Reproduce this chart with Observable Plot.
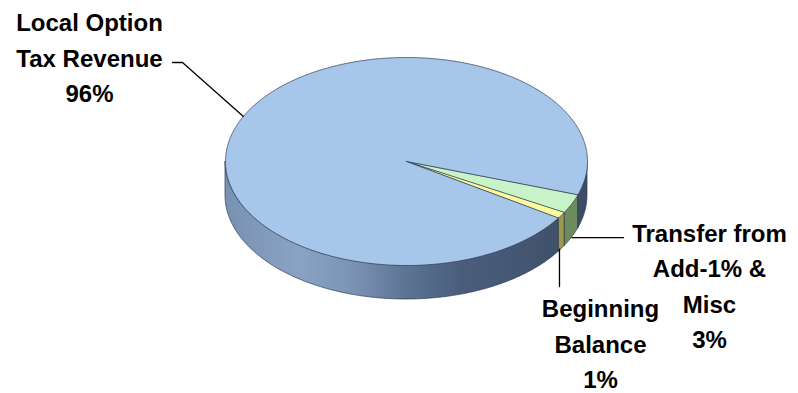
<!DOCTYPE html>
<html><head><meta charset="utf-8">
<script src="https://cdn.jsdelivr.net/npm/d3@7"></script>
<script src="https://cdn.jsdelivr.net/npm/@observablehq/plot@0.6"></script>
<style>body{margin:0;background:#fff}#chart{width:798px;height:393px}</style>
</head><body><div id="chart"></div>
<script>
// ---- data ----
const categories = ["Transfer from\nAdd-1% &\nMisc", "Beginning\nBalance", "Local Option\nTax Revenue"];
const values = [3, 1, 96];
const topColors = ["#c8f2c8", "#fbfb9b", "#a7c7ea"];
const sideColors = ["#6e8b5b", "#9d9750", "url(#side-gradient)"];

// ---- layout ----
const W = 798, H = 393;
const G = {cx: 406, cy: 161, rx: 181, ry: 104, depth: 34, start: 18.5};
const labelPos = [{x: 709, y: 283}, {x: 600, y: 341}, {x: 89, y: 55}];
const rad = d => d * Math.PI / 180;
const X = t => G.cx + G.rx * Math.cos(rad(t));
const Y = t => G.cy + G.ry * Math.sin(rad(t));

const arcs = d3.pie().sort(null).startAngle(0).endAngle(2 * Math.PI)(values).map((a, i) => {
  const t0 = G.start + a.startAngle * 180 / Math.PI;
  const t1 = G.start + a.endAngle * 180 / Math.PI;
  return {i, t0, t1, mid: (t0 + t1) / 2};
});

function range(a, b) {
  const n = Math.max(2, Math.ceil((b - a) / 0.5));
  return d3.range(n + 1).map(k => a + (b - a) * k / n);
}

const marks = [];
// gradient for the blue slice's side
marks.push(() => {
  const defs = d3.create("svg:defs");
  const g = defs.append("linearGradient").attr("id", "side-gradient")
    .attr("gradientUnits", "userSpaceOnUse")
    .attr("x1", G.cx - G.rx).attr("x2", G.cx + G.rx).attr("y1", 0).attr("y2", 0);
  [[0, "#7891b3"], [0.2, "#8aa2c4"], [0.35, "#7b93b5"], [0.5, "#5d7495"], [0.65, "#4a5e7c"], [0.85, "#43556f"], [1, "#3c4c64"]]
    .forEach(([o, c]) => g.append("stop").attr("offset", o).attr("stop-color", c));
  return defs.node();
});

// side walls (front half: 0..180 and 360..540)
for (const a of arcs) {
  for (const [lo, hi] of [[0, 180], [360, 540]]) {
    const s = Math.max(a.t0, lo), e = Math.min(a.t1, hi);
    if (e <= s) continue;
    const pts = range(s, e).map(t => ({x: X(t), y1: Y(t), y2: Y(t) + G.depth}));
    marks.push(Plot.area(pts, {x1: "x", y1: "y1", y2: "y2", fill: sideColors[a.i], stroke: "#2b3a50", strokeWidth: 0.7}));
  }
}
// top faces
for (const a of arcs) {
  const pts = [{x: G.cx, y: G.cy}, ...range(a.t0, a.t1).map(t => ({x: X(t), y: Y(t)}))];
  marks.push(Plot.line(pts, {x: "x", y: "y", curve: "linear-closed", fill: topColors[a.i], stroke: "#2b3a50", strokeWidth: 0.7}));
}

// leader lines
const [aT, aB, aL] = arcs;
const leaders = [
  [{x: X(aL.mid), y: Y(aL.mid)}, {x: 182, y: 62}, {x: 172, y: 62}],
  [{x: X(aT.mid), y: Y(aT.mid) + G.depth}, {x: 623, y: Y(aT.mid) + G.depth}],
  [{x: X(aB.mid) - 2, y: Y(aB.mid) + G.depth}, {x: X(aB.mid) - 2, y: 286}]
];
leaders.forEach(pts => marks.push(Plot.line(pts, {x: "x", y: "y", stroke: "#000", strokeWidth: 1.3})));

// labels
const labels = arcs.map(a => ({x: labelPos[a.i].x, y: labelPos[a.i].y, text: `${categories[a.i]}\n${values[a.i]}%`}));
marks.push(Plot.text(labels, {
  x: "x", y: "y", text: "text", fontSize: 24, fontWeight: "bold",
  fontFamily: "'Liberation Sans', Arial, sans-serif", lineHeight: 1.48,
  textAnchor: "middle", lineAnchor: "middle", fill: "#000"
}));

const chart = Plot.plot({
  width: W, height: H, margin: 0,
  x: {domain: [0, W], range: [0, W], axis: null},
  y: {domain: [0, H], range: [0, H], axis: null},
  marks
});
document.getElementById("chart").append(chart);
</script>
</body></html>
